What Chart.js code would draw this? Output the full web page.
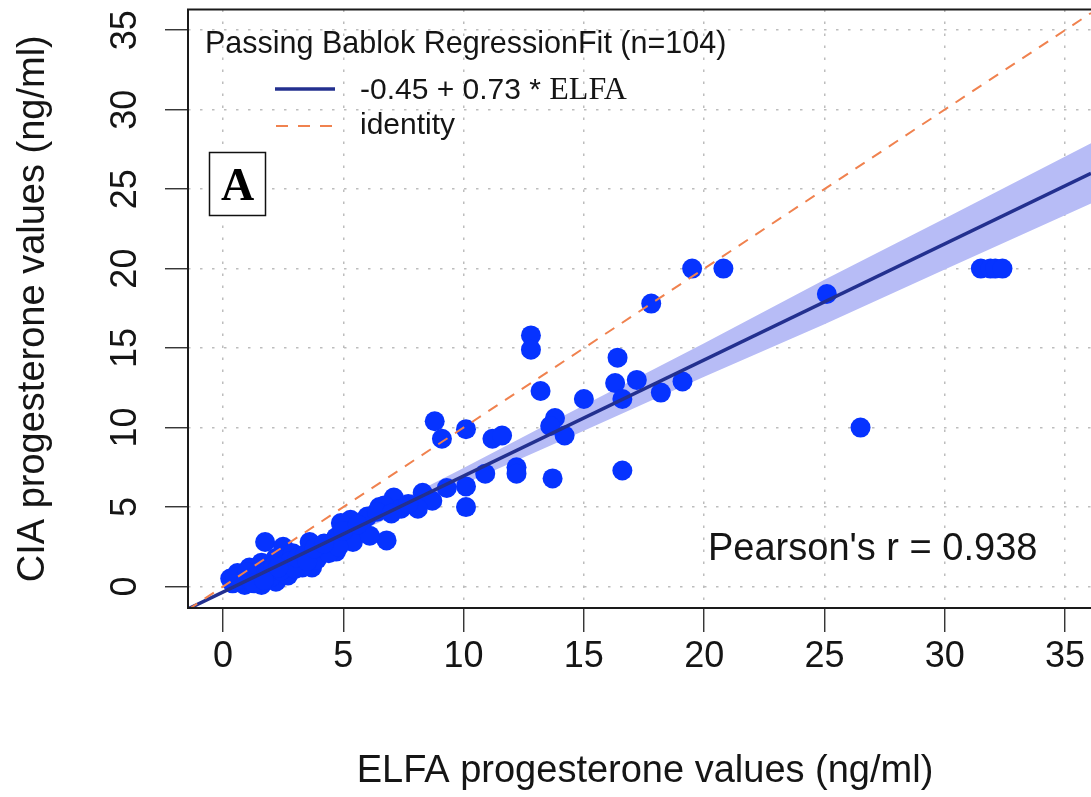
<!DOCTYPE html>
<html>
<head>
<meta charset="utf-8">
<title>Passing Bablok - ELFA vs CIA</title>
<script src="https://cdn.jsdelivr.net/npm/chart.js@4.4.0/dist/chart.umd.min.js"></script>
<style>
  html,body{margin:0;padding:0;background:#fff;overflow:hidden}
  #wrap{width:1091px;height:797px}
</style>
</head>
<body>
<div id="wrap"><canvas id="chart" width="1091" height="797"></canvas></div>
<script>
// valores ELFA (eje x) y CIA (eje y)
const elfa = [
  19.5, 20.8, 31.5, 31.9, 32.1, 32.4, 25.1, 17.8, 12.8, 12.8,
  16.4, 13.2, 15.0, 16.3, 17.2, 19.1, 16.6, 18.2, 8.8, 9.1,
  10.1, 11.2, 11.6, 13.8, 13.6, 14.2, 26.5, 13.7, 16.6, 12.2,
  12.2, 10.9, 10.1, 10.1, 9.3, 8.3, 8.7, 7.1, 6.5, 6.8,
  5.3, 6.0, 6.7, 7.4, 8.1, 6.4, 5.7, 4.9, 4.4, 5.4,
  6.1, 4.0, 4.7, 7.7, 7.0, 1.75, 2.5, 3.6, 3.7, 4.9,
  4.7, 0.3, 0.6, 1.1, 1.6, 2.2, 2.9, 0.9, 1.6, 2.2,
  2.7, 3.3, 3.9, 4.4, 4.8, 0.4, 0.5, 0.7, 0.8, 1.0,
  1.2, 1.3, 1.4, 1.5, 1.8, 1.9, 2.0, 2.1, 2.4, 2.6,
  2.8, 3.0, 3.1, 3.4, 3.5, 0.5, 1.0, 1.3, 1.7, 2.3,
  3.8, 4.2, 5.0, 5.6
];
const cia = [
  20.0, 20.0, 20.0, 20.0, 20.0, 20.0, 18.4, 17.8, 15.8, 14.9,
  14.4, 12.3, 11.8, 12.8, 13.0, 12.9, 11.8, 12.2, 10.4, 9.3,
  9.9, 9.3, 9.5, 10.6, 10.1, 9.5, 10.0, 6.8, 7.3, 7.5,
  7.1, 7.1, 6.3, 5.0, 6.2, 5.9, 5.4, 5.6, 5.0, 2.9,
  4.2, 4.4, 5.1, 4.9, 4.9, 4.7, 3.4, 3.2, 2.6, 2.8,
  3.2, 2.2, 2.2, 5.2, 4.6, 2.8, 2.5, 2.8, 1.2, 4.0,
  3.1, 0.5, 0.85, 1.2, 1.5, 1.8, 2.1, 0.1, 0.1, 0.3,
  0.7, 1.2, 1.7, 2.1, 2.5, 0.2, 0.3, 0.4, 0.5, 0.6,
  0.3, 0.8, 0.9, 0.6, 0.9, 1.0, 0.6, 1.3, 1.0, 1.4,
  1.6, 1.1, 1.8, 2.0, 1.6, 0.6, 0.9, 0.2, 0.4, 1.2,
  2.4, 2.7, 3.5, 3.9
];

// recta de ajuste y banda de confianza
const fitX = [-1.455, 36.08];
const fitY = [-1.41, 25.99];
const identX = [-1.455, 36.08];
const identY = [-1.455, 36.08];
const bandX = [-1.455, 0, 5, 10, 15, 20, 25, 30, 36.08];
const bandUpper = [-1.38, -0.27, 3.6, 7.45, 11.4, 15.3, 19.3, 23.15, 27.89];
const bandLower = [-1.44, -0.43, 3.0, 6.45, 9.8, 13.2, 16.5, 19.95, 24.09];

const xTicks = [0, 5, 10, 15, 20, 25, 30, 35];
const yTicks = [0, 5, 10, 15, 20, 25, 30, 35];

const X_MIN = -1.455, X_MAX = 36.08;
const Y_MIN = -1.35, Y_MAX = 36.3;

const SANS = "'Liberation Sans', Arial, Helvetica, sans-serif";
const SERIF = "'Liberation Serif', 'Times New Roman', serif";

function pts(xs, ys){ return xs.map((x,i)=>({x:x, y:ys[i]})); }

// textos, caja y leyenda dibujados encima
const decor = {
  id:'decor',
  afterDraw(chart){
    const ctx = chart.ctx;
    const a = chart.chartArea;
    const sx = chart.scales.x, sy = chart.scales.y;
    ctx.save();
    // marco del grafico (el borde derecho queda fuera)
    ctx.strokeStyle = '#1a1a1a'; ctx.lineWidth = 2;
    ctx.beginPath();
    ctx.moveTo(1100, a.top); ctx.lineTo(a.left, a.top);
    ctx.lineTo(a.left, a.bottom); ctx.lineTo(1100, a.bottom);
    ctx.stroke();

    ctx.fillStyle = '#151515';
    // etiquetas eje x
    ctx.font = '36px ' + SANS;
    ctx.textAlign = 'center'; ctx.textBaseline = 'middle';
    xTicks.forEach(v => ctx.fillText(String(v), sx.getPixelForValue(v), 657));
    // etiquetas eje y (rotadas)
    yTicks.forEach(v => {
      ctx.save();
      ctx.translate(126, sy.getPixelForValue(v));
      ctx.rotate(-Math.PI/2);
      ctx.fillText(String(v), 0, 0);
      ctx.restore();
    });
    // titulos de ejes
    ctx.font = '38px ' + SANS;
    ctx.fillText('ELFA progesterone values (ng/ml)', 645, 772);
    ctx.save();
    ctx.translate(34, (a.top + a.bottom)/2);
    ctx.rotate(-Math.PI/2);
    ctx.fillText('CIA progesterone values (ng/ml)', 0, 0);
    ctx.restore();

    // leyenda
    ctx.textAlign = 'left'; ctx.textBaseline = 'alphabetic';
    ctx.font = '30.5px ' + SANS;
    ctx.fillText('Passing Bablok RegressionFit (n=104)', 205, 53);
    ctx.strokeStyle = '#23308f'; ctx.lineWidth = 3.5; ctx.setLineDash([]);
    ctx.beginPath(); ctx.moveTo(275, 89); ctx.lineTo(335, 89); ctx.stroke();
    ctx.strokeStyle = '#f0824f'; ctx.lineWidth = 2; ctx.setLineDash([12, 10]);
    ctx.beginPath(); ctx.moveTo(276, 126); ctx.lineTo(333, 126); ctx.stroke();
    ctx.setLineDash([]);
    ctx.font = '30px ' + SANS;
    const lead = '-0.45 + 0.73 * ';
    ctx.fillText(lead, 360, 99);
    const w = ctx.measureText(lead).width;
    ctx.font = '32px ' + SERIF;
    ctx.fillText('ELFA', 360 + w, 99);
    ctx.font = '30px ' + SANS;
    ctx.fillText('identity', 360, 134);

    // recuadro "A"
    ctx.fillStyle = '#fff';
    ctx.fillRect(209, 152, 56, 64);
    ctx.strokeStyle = '#111'; ctx.lineWidth = 1.5;
    ctx.strokeRect(209.5, 152.5, 56, 63);
    ctx.fillStyle = '#000';
    ctx.font = 'bold 46px ' + SERIF;
    ctx.textAlign = 'center';
    ctx.fillText('A', 237.5, 200);

    // coeficiente de Pearson
    ctx.fillStyle = '#151515';
    ctx.textAlign = 'left';
    ctx.font = '38px ' + SANS;
    ctx.fillText("Pearson's r = 0.938", 708, 560);
    ctx.restore();
  }
};

window.addEventListener('DOMContentLoaded', () => {
  const ctx = document.getElementById('chart').getContext('2d');
  new Chart(ctx, {
    type: 'line',
    data: {
      datasets: [
        { label:'identity', data: pts(identX, identY), borderColor:'#f0824f', borderWidth:2,
          borderDash:[11, 9], pointRadius:0, fill:false, order:0 },
        { label:'fit', data: pts(fitX, fitY), borderColor:'#23308f', borderWidth:3.5,
          pointRadius:0, fill:false, order:1 },
        { label:'CIA vs ELFA', data: pts(elfa, cia), showLine:false, pointRadius:10,
          pointBackgroundColor:'#0633ff', pointBorderColor:'#0633ff', pointBorderWidth:0, order:2 },
        { label:'upper', data: pts(bandX, bandUpper), borderWidth:0, borderColor:'rgba(0,0,0,0)',
          backgroundColor:'#b7bcf6', pointRadius:0, fill:'+1', order:3 },
        { label:'lower', data: pts(bandX, bandLower), borderWidth:0, borderColor:'rgba(0,0,0,0)',
          pointRadius:0, fill:false, order:4 }
      ]
    },
    options: {
      responsive:false,
      animation:false,
      events:[],
      layout:{ autoPadding:false, padding:{ top:9.5, left:0, right:0, bottom:0 } },
      plugins:{ legend:{display:false}, tooltip:{enabled:false} },
      scales:{
        x:{
          type:'linear', min:X_MIN, max:X_MAX,
          afterBuildTicks: s => { s.ticks = xTicks.map(v => ({value:v})); },
          afterFit: s => { s.height = 189; },
          ticks:{ display:false },
          grid:{ color:'#bdbdbd', lineWidth:1.5, drawTicks:true, tickLength:24,
                 tickColor:'#222', tickWidth:1.3, tickBorderDash:[] },
          border:{ display:false, dash:[2.5, 9.5] }
        },
        y:{
          type:'linear', min:Y_MIN, max:Y_MAX,
          afterBuildTicks: s => { s.ticks = yTicks.map(v => ({value:v})); },
          afterFit: s => { s.width = 188; },
          ticks:{ display:false },
          grid:{ color:'#bdbdbd', lineWidth:1.5, drawTicks:true, tickLength:23,
                 tickColor:'#222', tickWidth:1.3, tickBorderDash:[] },
          border:{ display:false, dash:[2.5, 9.5] }
        }
      }
    },
    plugins:[decor]
  });
});
</script>
</body>
</html>
